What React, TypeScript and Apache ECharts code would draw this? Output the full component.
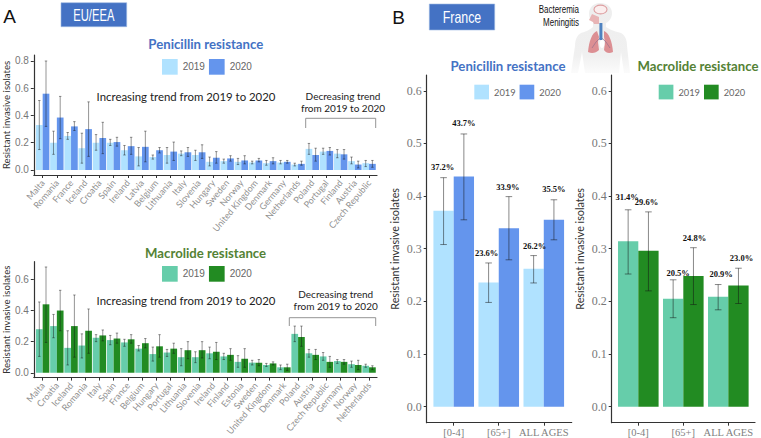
import React, { useEffect, useRef } from 'react';
import * as echarts from 'echarts';

// panel A, penicillin
const penCountries = ['Malta', 'Romania', 'France', 'Iceland', 'Croatia', 'Spain', 'Ireland', 'Latvia', 'Belgium', 'Lithuania', 'Italy', 'Slovenia', 'Hungary', 'Sweden', 'Norway', 'United Kingdom', 'Denmark', 'Germany', 'Netherlands', 'Poland', 'Portugal', 'Finland', 'Austria', 'Czech Republic'];
const pen2019 = [0.33, 0.2, 0.25, 0.16, 0.2, 0.2, 0.145, 0.1, 0.095, 0.11, 0.12, 0.11, 0.06, 0.065, 0.06, 0.055, 0.05, 0.055, 0.04, 0.155, 0.135, 0.12, 0.065, 0.05];
const pen2020 = [0.56, 0.385, 0.32, 0.3, 0.235, 0.205, 0.175, 0.17, 0.145, 0.135, 0.13, 0.13, 0.09, 0.085, 0.07, 0.07, 0.065, 0.06, 0.045, 0.11, 0.14, 0.115, 0.04, 0.045];
const pen2019Low = [0.15, 0.115, 0.225, 0.05, 0.145, 0.18, 0.11, 0.03, 0.08, 0.05, 0.105, 0.07, 0.03, 0.05, 0.04, 0.045, 0.035, 0.045, 0.03, 0.115, 0.115, 0.09, 0.045, 0.025];
const pen2019High = [0.51, 0.285, 0.275, 0.27, 0.26, 0.225, 0.18, 0.165, 0.11, 0.165, 0.14, 0.145, 0.095, 0.08, 0.085, 0.065, 0.07, 0.07, 0.05, 0.195, 0.16, 0.15, 0.095, 0.07];
const pen2020Low = [0.32, 0.23, 0.29, 0.1, 0.12, 0.175, 0.115, 0.06, 0.125, 0.07, 0.1, 0.085, 0.05, 0.065, 0.045, 0.06, 0.045, 0.05, 0.035, 0.065, 0.11, 0.08, 0.015, 0.02];
const pen2020High = [0.8, 0.54, 0.355, 0.5, 0.35, 0.24, 0.24, 0.285, 0.165, 0.205, 0.165, 0.185, 0.135, 0.105, 0.105, 0.085, 0.09, 0.07, 0.065, 0.16, 0.165, 0.15, 0.065, 0.07];

// panel A, macrolide
const macCountries = ['Malta', 'Croatia', 'Iceland', 'Romania', 'Italy', 'Spain', 'France', 'Belgium', 'Hungary', 'Portugal', 'Lithuania', 'Slovenia', 'Ireland', 'Finland', 'Estonia', 'Sweden', 'United Kingdom', 'Denmark', 'Poland', 'Austria', 'Czech Republic', 'Germany', 'Norway', 'Netherlands'];
const mac2019 = [0.28, 0.3, 0.16, 0.175, 0.225, 0.21, 0.195, 0.155, 0.12, 0.13, 0.1, 0.1, 0.125, 0.105, 0.07, 0.065, 0.05, 0.035, 0.25, 0.125, 0.105, 0.075, 0.055, 0.045];
const mac2020 = [0.44, 0.4, 0.3, 0.27, 0.24, 0.22, 0.215, 0.19, 0.17, 0.155, 0.145, 0.145, 0.135, 0.115, 0.09, 0.065, 0.06, 0.035, 0.23, 0.115, 0.07, 0.07, 0.05, 0.035];
const mac2019Low = [0.105, 0.225, 0.05, 0.095, 0.2, 0.18, 0.17, 0.14, 0.075, 0.105, 0.045, 0.065, 0.09, 0.085, 0.035, 0.05, 0.04, 0.02, 0.2, 0.1, 0.08, 0.06, 0.035, 0.035];
const mac2019High = [0.455, 0.375, 0.27, 0.25, 0.245, 0.24, 0.215, 0.175, 0.165, 0.15, 0.155, 0.135, 0.165, 0.125, 0.11, 0.08, 0.06, 0.05, 0.3, 0.15, 0.13, 0.085, 0.075, 0.055];
const mac2020Low = [0.195, 0.27, 0.1, 0.125, 0.205, 0.19, 0.19, 0.16, 0.1, 0.125, 0.09, 0.095, 0.085, 0.08, 0.035, 0.045, 0.05, 0.015, 0.17, 0.085, 0.035, 0.055, 0.02, 0.02];
const mac2020High = [0.68, 0.53, 0.5, 0.41, 0.275, 0.255, 0.245, 0.22, 0.245, 0.19, 0.2, 0.2, 0.195, 0.155, 0.155, 0.085, 0.07, 0.055, 0.3, 0.15, 0.105, 0.085, 0.08, 0.045];

// panel B, France
const ageGroups = ['[0-4]', '[65+]', 'ALL AGES'];
const frPen2019 = [0.372, 0.236, 0.262];
const frPen2020 = [0.437, 0.339, 0.355];
const frPen2019Low = [0.308, 0.198, 0.235];
const frPen2019High = [0.435, 0.273, 0.287];
const frPen2020Low = [0.355, 0.279, 0.317];
const frPen2020High = [0.518, 0.399, 0.393];
const frMac2019 = [0.314, 0.205, 0.209];
const frMac2020 = [0.296, 0.248, 0.23];
const frMac2019Low = [0.252, 0.169, 0.184];
const frMac2019High = [0.374, 0.241, 0.232];
const frMac2020Low = [0.22, 0.194, 0.196];
const frMac2020High = [0.37, 0.302, 0.263];

const BLUE_LIGHT = '#b0e2ff';
const BLUE_DARK = '#6495ed';
const GREEN_LIGHT = '#66cdaa';
const GREEN_DARK = '#228b22';
const TITLE_BLUE = '#4472c4';
const TITLE_GREEN = '#548235';

echarts.graphic.registerShape('bodyShape', echarts.graphic.extendPath(
  'M600 3C593 3 589 8 589 14C589 18 591 21 593 22L593 27C590 30 585 32 581 33C577 35 575 40 575 46L571 73L578 73L582 52L585 73L619 73L621 52L624 73L630 73L627 46C627 40 625 35 621 33C617 32 610 30 606 27L606 23C610 21 612 17 612 13C612 7 607 3 600 3Z', {}));
echarts.graphic.registerShape('lungLeft', echarts.graphic.extendPath(
  'M597 31C592 33 589 41 588 52C592 54 596 53 599 50L598 42L599 37Z', {}));
echarts.graphic.registerShape('lungRight', echarts.graphic.extendPath(
  'M604 31C609 33 612 41 613 52C609 54 606 53 604 50L605 42L604 37Z', {}));
echarts.graphic.registerShape('throatShape', echarts.graphic.extendPath(
  'M592 14L589 20L593 22L594 24L599 24L599 17Z', {}));

type PanelCfg = {
  names: string[];
  v19: number[];
  v20: number[];
  lo19: number[];
  hi19: number[];
  lo20: number[];
  hi20: number[];
  colors: [string, string];
  box: { left: number; top: number; width: number; height: number };
  xRange: [number, number];
  yRange: [number, number];
  yTicks: number[];
  barWidth: number;
  capWidth: number;
  legendPos: { left: number; top: number };
  country: boolean;
  nudges?: number[][];
};

const buildOption = () => {
  const grid: any[] = [];
  const xAxis: any[] = [];
  const yAxis: any[] = [];
  const series: any[] = [];
  const legend: any[] = [];

  const addPanel = (c: PanelCfg) => {
    const idx = grid.length;
    grid.push({ ...c.box, containLabel: false });
    const xValues = c.names.map((_, i) => i);
    xAxis.push({
      type: 'value',
      gridIndex: idx,
      min: c.xRange[0],
      max: c.xRange[1],
      splitLine: { show: false },
      axisLine: { onZero: false, lineStyle: { color: '#333', width: 1.2 } },
      axisTick: { length: 3, customValues: xValues, lineStyle: { color: '#333' } },
      axisLabel: c.country
        ? { customValues: xValues, formatter: (v: number) => c.names[v], rotate: 50, margin: 6, fontSize: 9, fontFamily: 'Lato', color: '#8f8f8f', hideOverlap: false }
        : { customValues: xValues, formatter: (v: number) => c.names[v], margin: 4, fontSize: 10.5, fontFamily: 'Liberation Serif', color: '#808080', hideOverlap: false },
    });
    yAxis.push({
      type: 'value',
      gridIndex: idx,
      min: c.yRange[0],
      max: c.yRange[1],
      name: 'Resistant invasive isolates',
      nameLocation: 'middle',
      nameGap: c.country ? 22 : 27,
      nameTextStyle: { fontFamily: 'Lato', fontSize: c.country ? 9.6 : 10.8, color: '#333' },
      splitLine: { show: false },
      axisLine: { show: true, onZero: false, lineStyle: { color: '#333', width: 1.2 } },
      axisTick: { show: true, length: 3, customValues: c.yTicks, lineStyle: { color: '#333' } },
      axisLabel: c.country
        ? { customValues: c.yTicks, formatter: (v: number) => v.toFixed(1), margin: 5, fontSize: 10, fontFamily: 'Liberation Sans', color: '#777' }
        : { customValues: c.yTicks, formatter: (v: number) => v.toFixed(1), margin: 5, fontSize: 12, fontFamily: 'Liberation Serif', color: '#777' },
    });
    const swatch = c.country ? 15.7 : 14.7;
    legend.push({
      ...c.legendPos,
      orient: 'horizontal',
      icon: 'rect',
      itemWidth: swatch,
      itemHeight: swatch,
      itemGap: 4,
      padding: 0,
      selectedMode: false,
      textStyle: { fontFamily: c.country ? 'Liberation Sans' : 'Lato', fontSize: c.country ? 10 : 9.3, color: '#666' },
      data: [
        { name: '2019', itemStyle: { color: c.colors[0] } },
        { name: '2020', itemStyle: { color: c.colors[1] } },
      ],
    });
    const barSeries = (name: string, vals: number[], color: string) => ({
      type: 'bar',
      name,
      xAxisIndex: idx,
      yAxisIndex: idx,
      barWidth: c.barWidth,
      barGap: '0%',
      itemStyle: { color },
      data: vals.map((v, i) => [i, v]),
    });
    series.push(barSeries('2019', c.v19, c.colors[0]));
    series.push(barSeries('2020', c.v20, c.colors[1]));

    // error bars + the percent labels on the France panels
    const whisker = (vals: number[], lows: number[], highs: number[], shift: number, yearIdx: number) => ({
      type: 'custom',
      name: 'err',
      xAxisIndex: idx,
      yAxisIndex: idx,
      silent: true,
      z: 5,
      encode: { x: 0, y: [1, 2] },
      data: vals.map((v, i) => [i, lows[i], highs[i], v]),
      renderItem: (_: any, api: any) => {
        const i = api.value(0);
        const lo = api.coord([i, api.value(1)]);
        const hi = api.coord([i, api.value(2)]);
        const x = lo[0] + shift * (c.barWidth / 2);
        const stroke = { stroke: 'rgba(20,20,20,0.5)', lineWidth: c.country ? 0.9 : 1 };
        const cap = c.capWidth / 2;
        const children: any[] = [
          { type: 'line', shape: { x1: x, y1: lo[1], x2: x, y2: hi[1] }, style: stroke },
          { type: 'line', shape: { x1: x - cap, y1: lo[1], x2: x + cap, y2: lo[1] }, style: stroke },
          { type: 'line', shape: { x1: x - cap, y1: hi[1], x2: x + cap, y2: hi[1] }, style: stroke },
        ];
        if (!c.country) {
          const nudge = c.nudges ? c.nudges[yearIdx * 3 + i] : [0, -10];
          children.push({
            type: 'text',
            style: {
              x: x + nudge[0],
              y: hi[1] + nudge[1],
              text: (api.value(3) * 100).toFixed(1) + '%',
              align: 'center',
              verticalAlign: 'middle',
              fontFamily: 'Liberation Serif',
              fontWeight: 'bold',
              fontSize: 8.5,
              fill: '#111',
            },
          });
        }
        return { type: 'group', children };
      },
    });
    series.push(whisker(c.v19, c.lo19, c.hi19, -1, 0));
    series.push(whisker(c.v20, c.lo20, c.hi20, 1, 1));
  };

  addPanel({
    names: penCountries, v19: pen2019, v20: pen2020, lo19: pen2019Low, hi19: pen2019High, lo20: pen2020Low, hi20: pen2020High,
    colors: [BLUE_LIGHT, BLUE_DARK],
    box: { left: 28, top: 55, width: 349, height: 120 },
    xRange: [-0.624, 23.56], yRange: [-0.0367, 0.844], yTicks: [0, 0.2, 0.4, 0.6, 0.8],
    barWidth: 6.7, capWidth: 2.4, legendPos: { left: 162, top: 59 }, country: true,
  });
  addPanel({
    names: macCountries, v19: mac2019, v20: mac2020, lo19: mac2019Low, hi19: mac2019High, lo20: mac2020Low, hi20: mac2020High,
    colors: [GREEN_LIGHT, GREEN_DARK],
    box: { left: 28, top: 261.7, width: 349, height: 120 },
    xRange: [-0.624, 23.56], yRange: [-0.031, 0.714], yTicks: [0, 0.2, 0.4, 0.6],
    barWidth: 6.7, capWidth: 2.4, legendPos: { left: 162, top: 266 }, country: true,
  });
  addPanel({
    names: ageGroups, v19: frPen2019, v20: frPen2020, lo19: frPen2019Low, hi19: frPen2019High, lo20: frPen2020Low, hi20: frPen2020High,
    colors: [BLUE_LIGHT, BLUE_DARK],
    box: { left: 426.7, top: 75, width: 145, height: 347.7 },
    xRange: [-0.6, 2.62], yRange: [-0.0304, 0.63], yTicks: [0, 0.1, 0.2, 0.3, 0.4, 0.5, 0.6],
    barWidth: 20.3, capWidth: 6.6, legendPos: { left: 474.3, top: 84.7 }, country: false,
    nudges: [[-1, -10.5], [-2, -9.5], [1, -10], [0, -10.5], [-1, -9.5], [0, -10.5]],
  });
  addPanel({
    names: ageGroups, v19: frMac2019, v20: frMac2020, lo19: frMac2019Low, hi19: frMac2019High, lo20: frMac2020Low, hi20: frMac2020High,
    colors: [GREEN_LIGHT, GREEN_DARK],
    box: { left: 611.7, top: 75, width: 143.3, height: 347.7 },
    xRange: [-0.591, 2.593], yRange: [-0.0304, 0.63], yTicks: [0, 0.1, 0.2, 0.3, 0.4, 0.5, 0.6],
    barWidth: 20.3, capWidth: 6.6, legendPos: { left: 658.7, top: 84.7 }, country: false,
    nudges: [[-1, -13], [5, -7], [3, -10.5], [-2, -9.5], [1, -10], [3, -10]],
  });

  const title = (text: string, x: number, y: number, fill: string) => ({
    type: 'text', x, y,
    style: { text, fill, fontFamily: 'Lato', fontWeight: 'bold', fontSize: 13.2, align: 'center', verticalAlign: 'middle' },
  });
  const note = (text: string, x: number, y: number, fontSize = 11.4) => ({
    type: 'text', x, y,
    style: { text, fill: '#222', fontFamily: 'Lato', fontSize, align: 'center', verticalAlign: 'middle' },
  });
  const badge = (text: string, x: number, y: number, w: number, h: number, squeeze: number) => ([
    { type: 'rect', shape: { x, y, width: w, height: h }, style: { fill: '#4472c4', stroke: '#9db8e3', lineWidth: 0.6 } },
    {
      type: 'text', x: x + w / 2, y: y + h / 2, scaleX: squeeze,
      style: { text, fill: '#fff', fontFamily: 'Liberation Sans', fontSize: 16.5, align: 'center', verticalAlign: 'middle' },
    },
  ]);
  const bracket = (x1: number, x2: number, top: number, bottom: number) => ({
    type: 'polyline',
    shape: { points: [[x1, bottom], [x1, top], [x2, top], [x2, bottom]] },
    style: { stroke: '#888', lineWidth: 0.9, fill: 'none' },
  });
  const letter = (text: string, x: number, y: number) => ({
    type: 'text', x, y,
    style: { text, fill: '#111', fontFamily: 'Liberation Sans', fontSize: 19, align: 'center', verticalAlign: 'middle' },
  });
  const small = (text: string, x: number, y: number) => ({
    type: 'text', x, y, scaleX: 0.76,
    style: { text, fill: '#111', fontFamily: 'Liberation Sans', fontSize: 10.5, align: 'right', verticalAlign: 'middle' },
  });

  const graphic = [
    letter('A', 9.5, 16),
    letter('B', 398.5, 17),
    ...badge('EU/EEA', 61, 2.7, 65.7, 24, 0.68),
    ...badge('France', 429.3, 4, 65.4, 26, 0.75),
    // little body illustration, under the titles
    {
      type: 'bodyShape', x: 0, y: 0,
      style: {
        fill: { type: 'linear', x: 0, y: 0, x2: 0, y2: 1, colorStops: [{ offset: 0, color: '#eeeeee' }, { offset: 0.75, color: '#f0f0f0' }, { offset: 1, color: '#fbfbfb' }] },
      },
    },
    { type: 'ellipse', shape: { cx: 600.5, cy: 9.5, rx: 6.5, ry: 4.4 }, style: { fill: '#fbeeee', stroke: '#dd9ea0', lineWidth: 1.1 } },
    { type: 'throatShape', x: 0, y: 0, style: { fill: '#e8b4b5' } },
    { type: 'lungLeft', x: 0, y: 0, style: { fill: '#dc8f93' } },
    { type: 'lungRight', x: 0, y: 0, style: { fill: '#dc8f93' } },
    { type: 'polyline', shape: { points: [[600, 38], [596, 42], [592, 48]] }, style: { stroke: '#8c6a8c', lineWidth: 0.6, fill: 'none' } },
    { type: 'polyline', shape: { points: [[602, 38], [606, 42], [610, 48]] }, style: { stroke: '#8c6a8c', lineWidth: 0.6, fill: 'none' } },
    { type: 'rect', shape: { x: 599.4, y: 23, width: 3, height: 17 }, style: { fill: '#4f82c0' } },
    { type: 'ellipse', shape: { cx: 602, cy: 44, rx: 2.4, ry: 4 }, style: { fill: '#fff' } },
    title('Penicillin resistance', 205.8, 44, TITLE_BLUE),
    title('Macrolide resistance', 205.6, 252.7, TITLE_GREEN),
    title('Penicillin resistance', 508, 65.7, TITLE_BLUE),
    title('Macrolide resistance', 698, 66, TITLE_GREEN),
    note('Increasing trend from 2019 to 2020', 186, 96.7),
    note('Increasing trend from 2019 to 2020', 186, 300.7),
    note('Decreasing trend', 343, 96, 10),
    note('from 2019 to 2020', 343, 107.7, 10),
    note('Decreasing trend', 335.7, 294.3, 10),
    note('from 2019 to 2020', 335.7, 306.3, 10),
    bracket(305.7, 375.7, 118.3, 128),
    bracket(289.3, 375.7, 317.7, 326),
    small('Bacteremia', 579, 10),
    small('Meningitis', 579, 22.7),
  ];

  return { animation: false, backgroundColor: '#fff', grid, xAxis, yAxis, series, legend, graphic };
};

const App: React.FC = () => {
  const chartRef = useRef<HTMLDivElement>(null);

  useEffect(() => {
    if (!chartRef.current) return;
    const chart = echarts.init(chartRef.current, undefined, { renderer: 'svg' });
    chart.setOption(buildOption() as any);
    return () => {
      chart.dispose();
    };
  }, []);

  return <div ref={chartRef} style={{ position: 'absolute', left: 0, top: 0, width: 761, height: 438 }} />;
};

export default App;
